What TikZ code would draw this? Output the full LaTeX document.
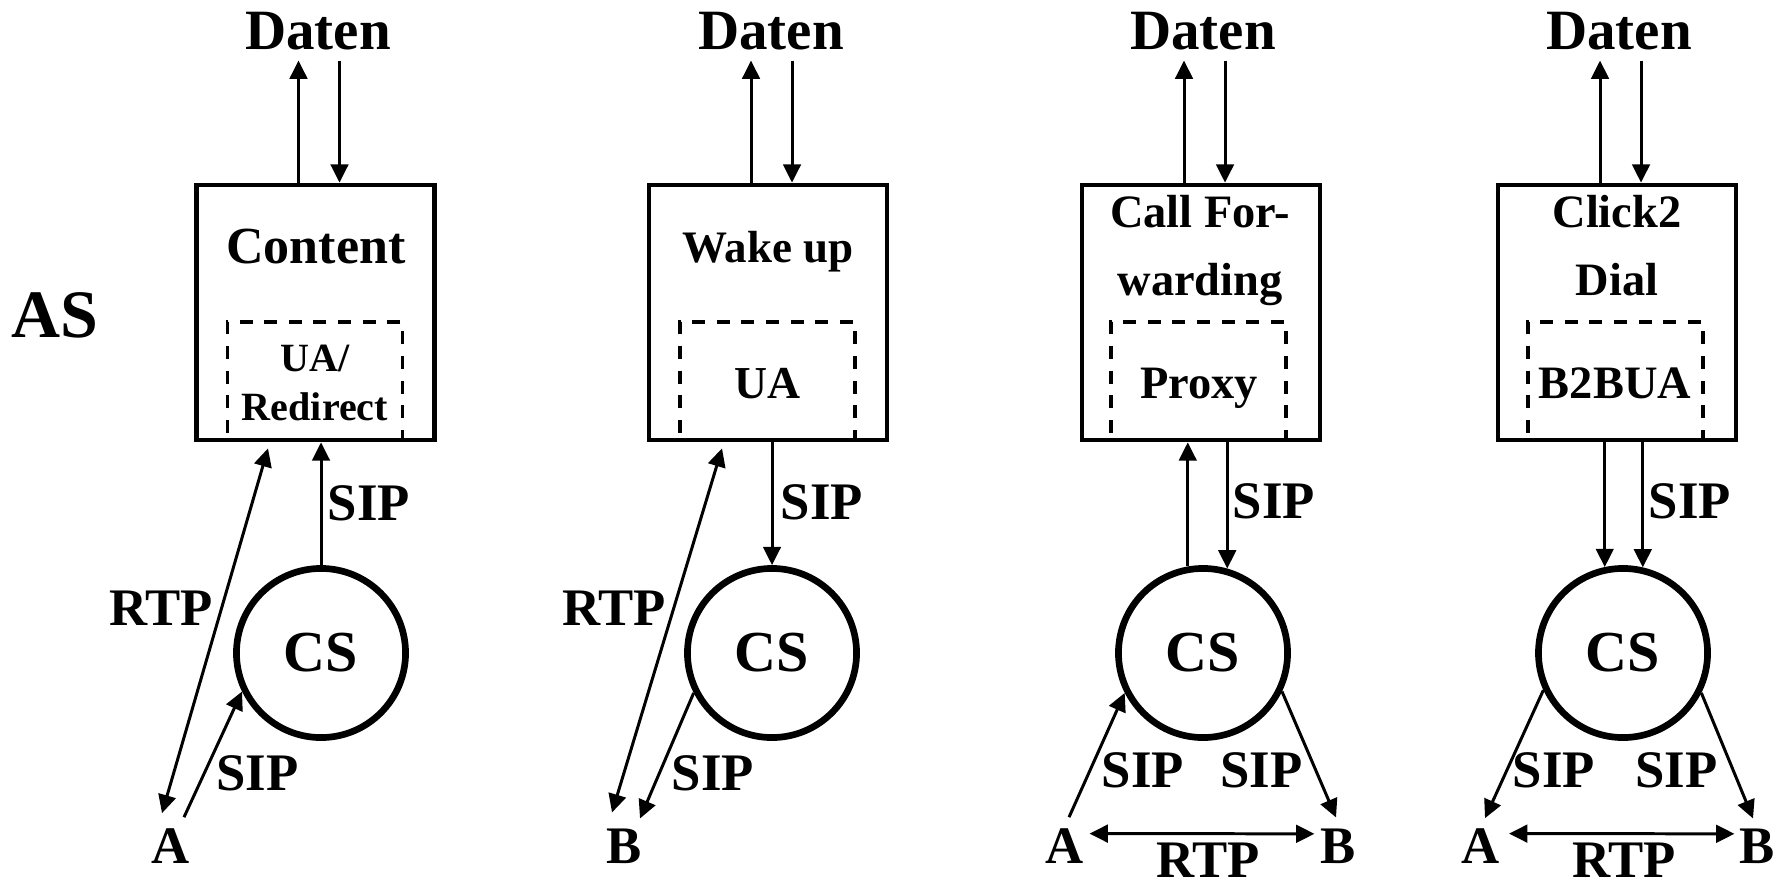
\documentclass[tikz,border=0pt]{standalone}
\usepackage{fontspec}
\setmainfont{Liberation Serif}
\usetikzlibrary{calc,arrows.meta}

\tikzset{
  asbox/.style={draw, line width=1.3pt, minimum width=2.38cm, minimum height=2.55cm, inner sep=0pt},
  uabox/.style={draw, line width=1.05pt, dash pattern=on 3.7pt off 3.3pt, minimum width=1.75cm, minimum height=1.18cm, inner sep=0pt},
  csknoten/.style={circle, draw, line width=1.9pt, minimum size=1.69cm, inner sep=0pt, font=\fontsize{16.5}{16.5}\selectfont\bfseries},
  txt/.style={inner sep=0pt, outer sep=0pt, anchor=base, font=\fontsize{15}{15}\selectfont\bfseries},
  daten/.style={txt, outer ysep=0.1cm, font=\fontsize{16.2}{16.2}\selectfont\bfseries},
  titel/.style={txt, align=center, font=\fontsize{13.2}{19.3}\selectfont\bfseries},
  pfeil/.style={line width=0.85pt, -{Triangle[length=5.2pt,width=5pt]}},
  dpfeil/.style={line width=0.85pt, {Triangle[length=5.2pt,width=5pt]}-{Triangle[length=5.2pt,width=5pt]}},
}

\begin{document}
\begin{tikzpicture}[x=0.01cm, y=-0.01cm]
\useasboundingbox (0,0) rectangle (1780,885);

% AS
\node[txt, font=\fontsize{19.3}{19.3}\selectfont\bfseries] (as) at (55,337) {AS};

% Content
\node[uabox] (ua1) at (315,381) {};
\node[asbox] (box1) at (315.5,312.5) {};
\node[txt, font=\fontsize{14.8}{14.8}\selectfont\bfseries] (titel1) at (316,263) {Content};
\node[titel, font=\fontsize{11.4}{13.7}\selectfont\bfseries] (rolle1) at (315,420) {UA/\\Redirect};
\node[daten] (daten1) at (318,50) {Daten};
\node[csknoten] (cs1) at (321,653) {CS};
\node[txt] (a1) at (171,863) {A};

\draw[pfeil] ($(box1.north)+(-17,0)$) -- ($(box1.north |- daten1.south)+(-17,0)$);
\draw[pfeil] ($(box1.north |- daten1.south)+(24,0)$) -- ($(box1.north)+(24,0)$);
\draw[pfeil] (cs1.north) -- (cs1.north |- box1.south);
\draw[dpfeil] ($(a1.north)+(-9,-15)$) -- ($(box1.south)+(-47.5,6)$);
\draw[pfeil] ($(a1.north)+(13,-11)$) -- (cs1.206);
\node[txt] (sip1o) at (369,520) {SIP};
\node[txt] (rtp1) at (161,625) {RTP};
\node[txt] (sip1u) at (257.5,790) {SIP};

% Wake up
\node[uabox] (ua2) at (767.5,381) {};
\node[asbox] (box2) at (768,312.5) {};
\node[txt, font=\fontsize{12.8}{12.8}\selectfont\bfseries] (titel2) at (768,262) {Wake up};
\node[txt, font=\fontsize{13}{13}\selectfont\bfseries] (rolle2) at (767,398) {UA};
\node[daten] (daten2) at (771,50) {Daten};
\node[csknoten] (cs2) at (772,653) {CS};
\node[txt] (b2) at (624.5,863) {B};

\draw[pfeil] ($(box2.north)+(-17,0)$) -- ($(box2.north |- daten2.south)+(-17,0)$);
\draw[pfeil] ($(box2.north |- daten2.south)+(24,0)$) -- ($(box2.north)+(24,0)$);
\draw[pfeil] (box2.south -| cs2.north) -- (cs2.north);
\draw[dpfeil] ($(b2.north)+(-12.5,-16)$) -- ($(box2.south)+(-46,6)$);
\draw[pfeil] (cs2.207) -- ($(b2.north)+(15.5,-10)$);
\node[txt] (sip2o) at (822,519) {SIP};
\node[txt] (rtp2) at (614,625) {RTP};
\node[txt] (sip2u) at (713,790) {SIP};

% Call Forwarding
\node[uabox] (ua3) at (1198.5,381) {};
\node[asbox] (box3) at (1201,312.5) {};
\node[titel] (titel3) at (1200,295) {Call For-\\warding};
\node[txt, font=\fontsize{13.2}{13.2}\selectfont\bfseries] (rolle3) at (1199,398) {Proxy};
\node[daten] (daten3) at (1203,50) {Daten};
\node[csknoten] (cs3) at (1203,653) {CS};
\node[txt] (a3) at (1064.5,863) {A};
\node[txt] (b3) at (1338,863) {B};

\draw[pfeil] ($(box3.north)+(-17,0)$) -- ($(box3.north |- daten3.south)+(-17,0)$);
\draw[pfeil] ($(box3.north |- daten3.south)+(24,0)$) -- ($(box3.north)+(24,0)$);
\draw[pfeil] (cs3.100) -- (cs3.100 |- box3.south);
\draw[pfeil] (cs3.74 |- box3.south) -- (cs3.74);
\draw[pfeil] ($(a3.north)+(4.5,-11)$) -- (cs3.207);
\draw[pfeil] (cs3.334) -- ($(b3.north)+(-2,-11)$);
\draw[dpfeil] ($(a3.east)+(6,-12)$) -- ($(b3.west)+(-6,-12)$);
\node[txt] (sip3o) at (1274,518) {SIP};
\node[txt] (sip3l) at (1143,787) {SIP};
\node[txt] (sip3r) at (1261.5,787) {SIP};
\node[txt] (rtp3) at (1208,877) {RTP};

% Click2Dial
\node[uabox] (ua4) at (1615.5,381) {};
\node[asbox] (box4) at (1617,312.5) {};
\node[titel] (titel4) at (1617,295) {Click2\\Dial};
\node[txt, font=\fontsize{13.2}{13.2}\selectfont\bfseries] (rolle4) at (1615,398) {B2BUA};
\node[daten] (daten4) at (1619,50) {Daten};
\node[csknoten] (cs4) at (1623,653) {CS};
\node[txt] (a4) at (1481,863) {A};
\node[txt] (b4) at (1757,863) {B};

\draw[pfeil] ($(box4.north)+(-17,0)$) -- ($(box4.north |- daten4.south)+(-17,0)$);
\draw[pfeil] ($(box4.north |- daten4.south)+(24,0)$) -- ($(box4.north)+(24,0)$);
\draw[pfeil] (cs4.102 |- box4.south) -- (cs4.102);
\draw[pfeil] (cs4.77 |- box4.south) -- (cs4.77);
\draw[pfeil] (cs4.205) -- ($(a4.north)+(4,-10)$);
\draw[pfeil] (cs4.333) -- ($(b4.north)+(-4,-10)$);
\draw[dpfeil] ($(a4.east)+(9,-12)$) -- ($(b4.west)+(-5,-12)$);
\node[txt] (sip4o) at (1690,518) {SIP};
\node[txt] (sip4l) at (1554,787) {SIP};
\node[txt] (sip4r) at (1676.5,787) {SIP};
\node[txt] (rtp4) at (1624,877) {RTP};

\end{tikzpicture}
\end{document}
